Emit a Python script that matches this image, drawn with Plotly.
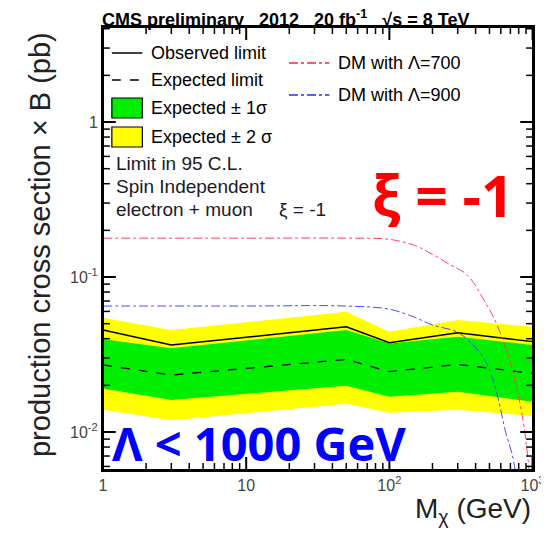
import plotly.graph_objects as go

# mass points (GeV) for the limit curves
mass = [1, 3, 50, 100, 300, 1000]
observed = [0.0455, 0.0364, 0.0478, 0.0377, 0.0437, 0.0383]
expected = [0.0271, 0.0233, 0.0294, 0.0245, 0.0273, 0.0239]
exp_1s_up = [0.0397, 0.0347, 0.0455, 0.0373, 0.0412, 0.0364]
exp_1s_lo = [0.0191, 0.0161, 0.0199, 0.0169, 0.0182, 0.0157]
exp_2s_up = [0.0546, 0.0455, 0.0597, 0.0444, 0.0528, 0.0478]
exp_2s_lo = [0.0139, 0.0119, 0.0152, 0.0133, 0.0139, 0.0127]

# DM model predictions
dm700_mass = [1, 10, 50, 100, 150, 200, 270, 350, 470, 560, 700, 850, 950]
dm700_xs = [0.178, 0.178, 0.178, 0.175, 0.16, 0.14, 0.119, 0.103, 0.068, 0.050, 0.028, 0.0125, 0.0055]
dm900_mass = [1, 10, 50, 100, 150, 200, 300, 400, 475, 555, 650, 720, 760]
dm900_xs = [0.065, 0.065, 0.065, 0.062, 0.055, 0.049, 0.044, 0.035, 0.028, 0.0187, 0.0099, 0.0072, 0.0055]

xtick_vals = [1, 10, 100, 1000]
xtick_text = ["1", "10", "10<sup>2</sup>", "10<sup>3</sup>"]
ytick_vals = [0.01, 0.1, 1]
ytick_text = ["10<sup>-2</sup>", "10<sup>-1</sup>", "1"]

W, H = 549, 534
OFF = 8                          # page body margin
L, R, T, B = 103, 540, 27, 470   # plot frame as seen on screen

xr = [0, 3.003]
yr = [-2.245, 0.613]
minor_x = [v * m for m in (1, 10, 100) for v in range(2, 10)]
minor_y = [v * m for m in (0.001, 0.01, 0.1, 1) for v in range(2, 10)
           if 10 ** yr[0] < v * m < 10 ** yr[1]]


def px(x):
    return (x - L) / (R - L)


def py(y):
    return (B - y) / (B - T)


fig = go.Figure()

fig.add_trace(go.Scatter(x=mass + mass[::-1], y=exp_2s_up + exp_2s_lo[::-1],
                         fill="toself", fillcolor="#ffff00", line=dict(width=0),
                         mode="lines", hoverinfo="skip"))
fig.add_trace(go.Scatter(x=mass + mass[::-1], y=exp_1s_up + exp_1s_lo[::-1],
                         fill="toself", fillcolor="#00ee00", line=dict(width=0),
                         mode="lines", hoverinfo="skip"))
fig.add_trace(go.Scatter(x=mass, y=expected, mode="lines",
                         line=dict(color="black", width=1.3, dash="dash")))
fig.add_trace(go.Scatter(x=mass, y=observed, mode="lines",
                         line=dict(color="black", width=1.5)))
fig.add_trace(go.Scatter(x=dm700_mass, y=dm700_xs, mode="lines", line_shape="spline",
                         line=dict(color="#ff4060", width=1, dash="dashdot")))
fig.add_trace(go.Scatter(x=dm900_mass, y=dm900_xs, mode="lines", line_shape="spline",
                         line=dict(color="#4050ff", width=1, dash="dashdot")))

lab = dict(family="Liberation Sans", size=16, color="#444")

fig.update_layout(
    xaxis=dict(type="log", range=xr, tickvals=xtick_vals, ticktext=xtick_text, ticks="",
               showline=True, linecolor="black", linewidth=2, mirror=True,
               showgrid=False, zeroline=False, tickfont=lab),
    yaxis=dict(type="log", range=yr, tickvals=ytick_vals, ticktext=ytick_text, ticks="",
               showline=True, linecolor="black", linewidth=2, mirror=True,
               showgrid=False, zeroline=False, tickfont=lab),
)

shapes = []
annots = []

# frame and ROOT-style inward ticks on all four sides (placed via the axes' scales)
shapes.append(dict(type="rect", xref="paper", yref="paper", x0=0, x1=1, y0=0, y1=1,
                   line=dict(color="black", width=2), layer="above"))
for vals, ln, wd in [(xtick_vals, 13, 2), (minor_x, 7, 1.5)]:
    f = ln / (B - T)
    for v in vals:
        for y0, y1 in [(0, f), (1 - f, 1)]:
            shapes.append(dict(type="line", xref="x", yref="paper", x0=v, x1=v, y0=y0, y1=y1,
                               line=dict(color="black", width=wd), layer="above"))
for vals, ln, wd in [(ytick_vals, 13, 2), (minor_y, 7, 1.5)]:
    f = ln / (R - L)
    for v in vals:
        for x0, x1 in [(0, f), (1 - f, 1)]:
            shapes.append(dict(type="line", xref="paper", yref="y", x0=x0, x1=x1, y0=v, y1=v,
                               line=dict(color="black", width=wd), layer="above"))

# legend samples
shapes.append(dict(type="line", xref="paper", yref="paper", x0=px(112), x1=px(143), y0=py(53), y1=py(53),
                   line=dict(color="black", width=1.5)))
shapes.append(dict(type="line", xref="paper", yref="paper", x0=px(112), x1=px(143), y0=py(80), y1=py(80),
                   line=dict(color="black", width=1.3, dash="dash")))
shapes.append(dict(type="rect", xref="paper", yref="paper", x0=px(112), x1=px(143), y0=py(118), y1=py(98),
                   fillcolor="#00ee00", line=dict(color="black", width=1.2)))
shapes.append(dict(type="rect", xref="paper", yref="paper", x0=px(112), x1=px(143), y0=py(147), y1=py(127),
                   fillcolor="#ffff00", line=dict(color="black", width=1.2)))
shapes.append(dict(type="line", xref="paper", yref="paper", x0=px(292), x1=px(333), y0=py(63), y1=py(63),
                   line=dict(color="#ff2040", width=1.3, dash="dashdot")))
shapes.append(dict(type="line", xref="paper", yref="paper", x0=px(292), x1=px(333), y0=py(95), y1=py(95),
                   line=dict(color="#2030ff", width=1.3, dash="dashdot")))

txt = dict(family="Liberation Sans", size=18, color="black")
for s, x, y in [("Observed limit", 150, 53), ("Expected limit", 150, 80),
                ("Expected ± 1σ", 150, 108), ("Expected ± 2 σ", 150, 137),
                ("DM with Λ=700", 340, 63), ("DM with Λ=900", 340, 95)]:
    annots.append(dict(text=s, xref="paper", yref="paper", x=px(x), y=py(y),
                       xanchor="left", yanchor="middle", showarrow=False, font=txt))
for s, x, y in [("Limit in 95 C.L.", 114, 163), ("Spin Independent", 114, 186),
                ("electron + muon", 114, 210), ("ξ = -1", 280, 210)]:
    annots.append(dict(text=s, xref="paper", yref="paper", x=px(x), y=py(y),
                       xanchor="left", yanchor="middle", showarrow=False,
                       font=dict(family="Liberation Sans", size=19, color="#1a1a2a")))

sp = "\u00a0\u00a0\u00a0"
annots.append(dict(text="CMS preliminary" + sp + "2012" + sp + "20 fb<sup>-1</sup>" + sp + "√s = 8 TeV",
                   xref="paper", yref="paper", x=px(100), y=py(18), xanchor="left", yanchor="middle",
                   showarrow=False, font=dict(family="Liberation Sans", size=18, color="black", weight="bold")))
annots.append(dict(text="production cross section × B (pb)", xref="paper", yref="paper",
                   x=px(39), y=py(245), textangle=-90, xanchor="center", yanchor="middle",
                   showarrow=False, font=dict(family="Liberation Sans", size=29, color="#222")))
annots.append(dict(text="M<sub>χ</sub> (GeV)", xref="paper", yref="paper",
                   x=px(540), y=py(510), xanchor="right", yanchor="middle",
                   showarrow=False, font=dict(family="Liberation Sans", size=28, color="#222")))
annots.append(dict(text="ξ = -1", xref="paper", yref="paper", x=px(449), y=py(195),
                   xanchor="center", yanchor="middle", showarrow=False,
                   font=dict(family="Open Sans", size=57, color="#ff0000", weight="bold")))
annots.append(dict(text="Λ < 1000 GeV", xref="paper", yref="paper", x=px(262), y=py(443),
                   xanchor="center", yanchor="middle", showarrow=False,
                   font=dict(family="Open Sans", size=47, color="#0000ff", weight="bold")))

fig.update_layout(width=W, height=H,
                  margin=dict(l=L - OFF, r=W - (R - OFF), t=T - OFF, b=H - (B - OFF)),
                  paper_bgcolor="white", plot_bgcolor="white",
                  shapes=shapes, annotations=annots, showlegend=False)

fig.write_html("out.html")
